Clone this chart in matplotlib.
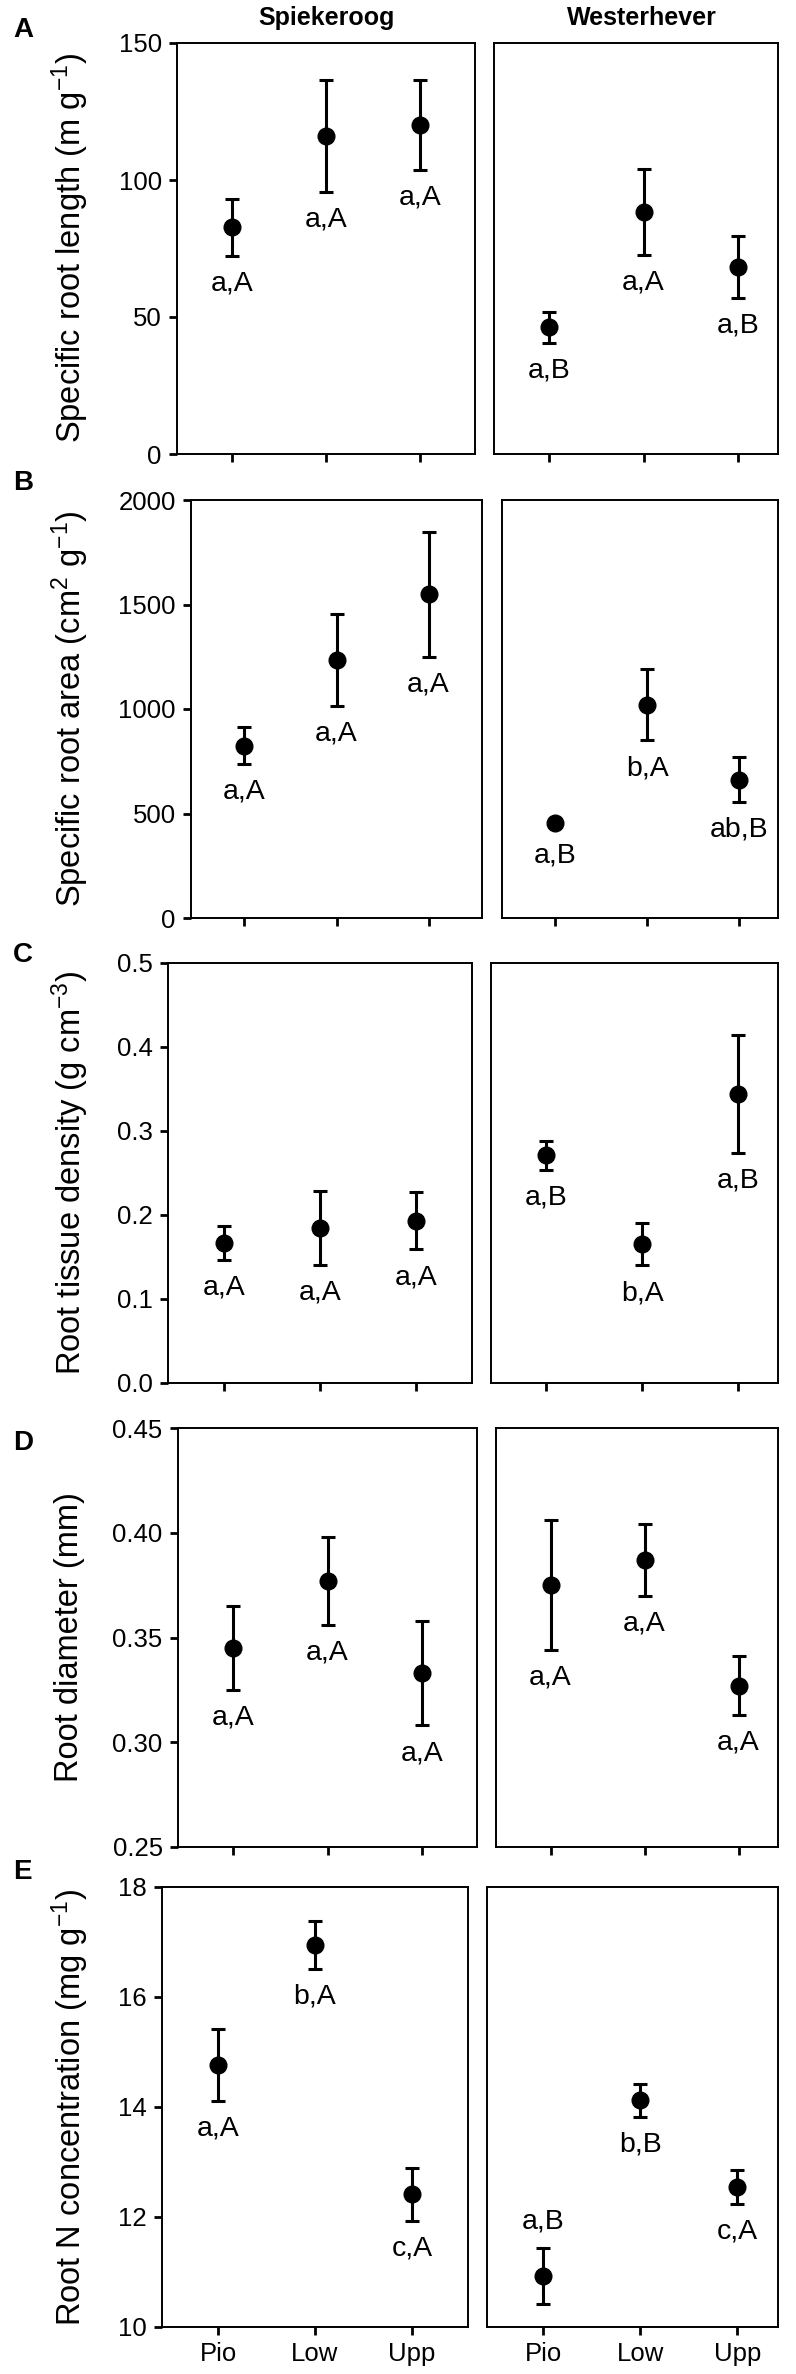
import numpy as np
import matplotlib
matplotlib.use("Agg")
import matplotlib.pyplot as plt
from matplotlib.ticker import FormatStrFormatter

plt.rcParams["font.family"] = ["Liberation Sans", "DejaVu Sans"]
plt.rcParams["mathtext.fontset"] = "custom"
plt.rcParams["mathtext.rm"] = "Liberation Sans"
plt.rcParams["mathtext.it"] = "Liberation Sans:italic"
plt.rcParams["mathtext.bf"] = "Liberation Sans:bold"

zones = ["Pio", "Low", "Upp"]
sites = ["Spiekeroog", "Westerhever"]

# means and error bars per zone (Pio, Low, Upp) for each site
srl_spi, srl_spi_err = [82.8, 116.1, 120.0], [10.4, 20.4, 16.4]
srl_wes, srl_wes_err = [46.2, 88.3, 68.3], [5.6, 15.6, 11.2]
srl_lab = [["a,A", "a,A", "a,A"], ["a,B", "a,A", "a,B"]]

sra_spi, sra_spi_err = [825, 1235, 1549], [88, 220, 299]
sra_wes, sra_wes_err = [454, 1020, 661], [20, 170, 107]
sra_lab = [["a,A", "a,A", "a,A"], ["a,B", "b,A", "ab,B"]]

rtd_spi, rtd_spi_err = [0.167, 0.185, 0.193], [0.020, 0.044, 0.034]
rtd_wes, rtd_wes_err = [0.271, 0.165, 0.344], [0.017, 0.025, 0.070]
rtd_lab = [["a,A", "a,A", "a,A"], ["a,B", "b,A", "a,B"]]

rd_spi, rd_spi_err = [0.345, 0.377, 0.333], [0.020, 0.021, 0.025]
rd_wes, rd_wes_err = [0.375, 0.387, 0.327], [0.031, 0.017, 0.014]
rd_lab = [["a,A", "a,A", "a,A"], ["a,A", "a,A", "a,A"]]

rn_spi, rn_spi_err = [14.76, 16.95, 12.41], [0.65, 0.44, 0.48]
rn_wes, rn_wes_err = [10.93, 14.12, 12.55], [0.51, 0.30, 0.31]
rn_lab = [["a,A", "b,A", "c,A"], ["a,B", "b,B", "c,A"]]
rn_above = [[False, False, False], [True, False, False]]

W, H = 796, 2374
fig = plt.figure(figsize=(W / 100, H / 100), dpi=100)


def px_axes(l, t, r, b):
    return fig.add_axes([l / W, 1 - b / H, (r - l) / W, (b - t) / H])


panels = [
    dict(letter="A", means=[srl_spi, srl_wes], errs=[srl_spi_err, srl_wes_err], labs=srl_lab,
         ylabel=r"Specific root length (m g$^{-1}$)", ylim=(0, 150), yticks=[0, 50, 100, 150], fmt="%d",
         boxes=[(177, 43, 475, 454), (494, 43, 778, 454)], letter_y=37),
    dict(letter="B", means=[sra_spi, sra_wes], errs=[sra_spi_err, sra_wes_err], labs=sra_lab,
         ylabel=r"Specific root area (cm$^{2}$ g$^{-1}$)", ylim=(0, 2000), yticks=[0, 500, 1000, 1500, 2000], fmt="%d",
         boxes=[(191, 500, 482, 918), (502, 500, 778, 918)], letter_y=490),
    dict(letter="C", means=[rtd_spi, rtd_wes], errs=[rtd_spi_err, rtd_wes_err], labs=rtd_lab,
         ylabel=r"Root tissue density (g cm$^{-3}$)", ylim=(0, 0.5), yticks=[0, 0.1, 0.2, 0.3, 0.4, 0.5], fmt="%.1f",
         boxes=[(168, 963, 472, 1383), (491, 963, 778, 1383)], letter_y=962),
    dict(letter="D", means=[rd_spi, rd_wes], errs=[rd_spi_err, rd_wes_err], labs=rd_lab,
         ylabel="Root diameter (mm)", ylim=(0.25, 0.45), yticks=[0.25, 0.30, 0.35, 0.40, 0.45], fmt="%.2f",
         boxes=[(178, 1428, 477, 1847), (496, 1428, 778, 1847)], letter_y=1450),
    dict(letter="E", means=[rn_spi, rn_wes], errs=[rn_spi_err, rn_wes_err], labs=rn_lab, above=rn_above,
         ylabel=r"Root N concentration (mg g$^{-1}$)", ylim=(10, 18), yticks=[10, 12, 14, 16, 18], fmt="%d",
         boxes=[(162, 1887, 468, 2327), (487, 1887, 778, 2327)], letter_y=1879),
]

x = np.arange(1, 4)
for pi, p in enumerate(panels):
    last = pi == len(panels) - 1
    for side in range(2):
        ax = px_axes(*p["boxes"][side])
        ax.errorbar(x, p["means"][side], yerr=p["errs"][side], fmt="o", color="black",
                    ms=12, elinewidth=2.2, capsize=5, capthick=2.2)
        ax.set_xlim(0.42, 3.58 if side == 0 else 3.42)
        ax.set_ylim(*p["ylim"])
        ax.set_xticks(x)
        ax.set_xticklabels(zones if last else [])
        for s in ax.spines.values():
            s.set_linewidth(1.4)
        ax.tick_params(axis="both", length=6, width=2, labelsize=18.5, pad=5)
        if side == 0:
            ax.set_yticks(p["yticks"])
            ax.yaxis.set_major_formatter(FormatStrFormatter(p["fmt"]))
        else:
            ax.tick_params(axis="y", left=False, labelleft=False)
        above = p.get("above", [[False] * 3, [False] * 3])[side]
        for xi, m, e, lab, up in zip(x, p["means"][side], p["errs"][side], p["labs"][side], above):
            if up:
                ax.annotate(lab, (xi, m + e), xytext=(0, 14), textcoords="offset points",
                            ha="center", va="baseline", fontsize=20.5)
            else:
                ax.annotate(lab, (xi, m - e), xytext=(0, -25), textcoords="offset points",
                            ha="center", va="baseline", fontsize=20.5)
    t, b = p["boxes"][0][1], p["boxes"][0][3]
    fig.text(70 / W, 1 - (t + b) / 2 / H, p["ylabel"], rotation=90, ha="center", va="center", fontsize=23.5)
    fig.text(13 / W, 1 - p["letter_y"] / H, p["letter"], ha="left", va="baseline",
             fontsize=20, fontweight="bold")

fig.text(326 / W, 1 - 25 / H, sites[0], ha="center", va="baseline", fontsize=18, fontweight="bold")
fig.text(642 / W, 1 - 25 / H, sites[1], ha="center", va="baseline", fontsize=18, fontweight="bold")

fig.savefig("out.png", dpi=100)
